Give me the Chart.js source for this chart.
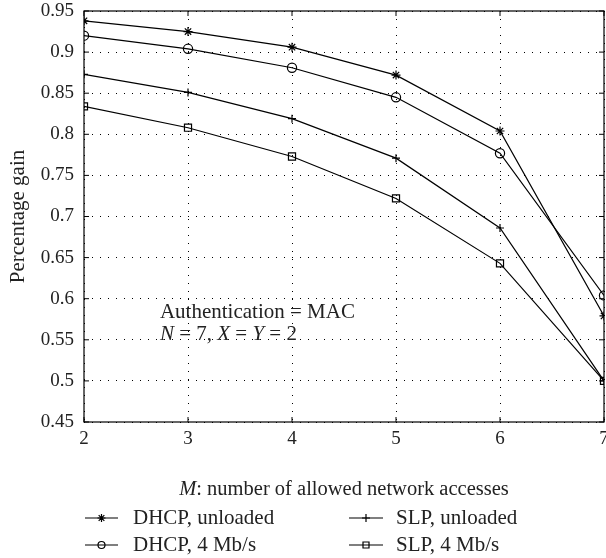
<!DOCTYPE html>
<html>
<head>
<meta charset="utf-8">
<script src="https://cdn.jsdelivr.net/npm/chart.js@4.4.1/dist/chart.umd.min.js"></script>
<style>
  html, body { margin: 0; padding: 0; background: #fff; }
  #wrap { width: 606px; height: 558px; position: relative; }
</style>
</head>
<body>
<div id="wrap"><canvas id="gainChart"></canvas></div>
<script>
// number of allowed network accesses
const accesses = [2, 3, 4, 5, 6, 7];

const dhcpUnloaded = [0.938, 0.925, 0.906, 0.872, 0.804, 0.579];
const dhcp4Mb     = [0.920, 0.904, 0.881, 0.845, 0.777, 0.604];
const slpUnloaded = [0.873, 0.851, 0.819, 0.771, 0.686, 0.500];
const slp4Mb      = [0.834, 0.808, 0.773, 0.722, 0.643, 0.500];

const yTicks = [0.45, 0.5, 0.55, 0.6, 0.65, 0.7, 0.75, 0.8, 0.85, 0.9, 0.95];

const FONT = '"Liberation Serif", "DejaVu Serif", serif';

function toPoints(vals) {
    return vals.map((v, i) => ({ x: accesses[i], y: v }));
}

function series(label, vals, style, radius) {
    return {
        label: label,
        data: toPoints(vals),
        borderColor: '#000',
        borderWidth: 1.2,
        pointStyle: style,
        pointRadius: radius,
        pointBorderColor: '#000',
        pointBorderWidth: 1.2,
        pointBackgroundColor: 'rgba(0,0,0,0)',
        tension: 0,
        fill: false
    };
}

// small marker drawer for the legend
function marker(ctx, style, x, y, r) {
    ctx.beginPath();
    if (style === 'circle') {
        ctx.arc(x, y, r, 0, Math.PI * 2);
    } else if (style === 'rect') {
        ctx.rect(x - r, y - r, 2 * r, 2 * r);
    } else if (style === 'cross') {
        ctx.moveTo(x - r, y); ctx.lineTo(x + r, y);
        ctx.moveTo(x, y - r); ctx.lineTo(x, y + r);
    } else if (style === 'star') {
        for (let k = 0; k < 4; k++) {
            const a = k * Math.PI / 4;
            ctx.moveTo(x - r * Math.cos(a), y - r * Math.sin(a));
            ctx.lineTo(x + r * Math.cos(a), y + r * Math.sin(a));
        }
    }
    ctx.stroke();
}

const decorations = {
    id: 'decorations',
    afterDraw(chart) {
        const ctx = chart.ctx;
        const a = chart.chartArea;
        const xs = chart.scales.x, ys = chart.scales.y;
        ctx.save();
        ctx.strokeStyle = '#000';
        ctx.lineWidth = 1.2;
        // box
        ctx.strokeRect(a.left, a.top, a.right - a.left, a.bottom - a.top);
        // inward ticks
        ctx.lineWidth = 1;
        ctx.beginPath();
        xs.ticks.forEach(t => {
            const px = xs.getPixelForValue(t.value);
            ctx.moveTo(px, a.bottom); ctx.lineTo(px, a.bottom - 5);
            ctx.moveTo(px, a.top); ctx.lineTo(px, a.top + 5);
        });
        ys.ticks.forEach(t => {
            const py = ys.getPixelForValue(t.value);
            ctx.moveTo(a.left, py); ctx.lineTo(a.left + 5, py);
            ctx.moveTo(a.right, py); ctx.lineTo(a.right - 5, py);
        });
        ctx.stroke();

        ctx.fillStyle = '#222';
        ctx.textBaseline = 'middle';

        // annotation
        const ax = xs.getPixelForValue(2.73);
        const ay1 = ys.getPixelForValue(0.583);
        const ay2 = ay1 + 22;
        ctx.font = '21px ' + FONT;
        ctx.textAlign = 'left';
        ctx.fillText('Authentication = MAC', ax, ay1);
        const parts = [['N', true], [' = 7, ', false], ['X', true], [' = ', false], ['Y', true], [' = 2', false]];
        let cx = ax;
        parts.forEach(p => {
            ctx.font = (p[1] ? 'italic ' : '') + '21px ' + FONT;
            ctx.fillText(p[0], cx, ay2);
            cx += ctx.measureText(p[0]).width;
        });

        // x title
        const tY = 490;
        ctx.font = 'italic 20.5px ' + FONT;
        const mW = ctx.measureText('M').width;
        ctx.font = '20.5px ' + FONT;
        const rest = ': number of allowed network accesses';
        const rW = ctx.measureText(rest).width;
        let tx = (a.left + a.right) / 2 - (mW + rW) / 2;
        ctx.font = 'italic 20.5px ' + FONT;
        ctx.fillText('M', tx, tY);
        ctx.font = '20.5px ' + FONT;
        ctx.fillText(rest, tx + mW, tY);

        // y title
        ctx.save();
        ctx.translate(18, (a.top + a.bottom) / 2);
        ctx.rotate(-Math.PI / 2);
        ctx.textAlign = 'center';
        ctx.font = '21px ' + FONT;
        ctx.fillText('Percentage gain', 0, 0);
        ctx.restore();

        // legend
        const items = chart.data.datasets;
        const cols = [[85, 118, 133], [349, 383, 396]];
        const rows = [518, 545];
        const layout = [[0, 0], [0, 1], [1, 0], [1, 1]];
        ctx.font = '21px ' + FONT;
        ctx.textAlign = 'left';
        items.forEach((ds, i) => {
            const c = cols[layout[i][0]], y = rows[layout[i][1]];
            ctx.lineWidth = 1.2;
            ctx.beginPath();
            ctx.moveTo(c[0], y); ctx.lineTo(c[1], y);
            ctx.stroke();
            const r = ds.pointStyle === 'rect' ? 3 : (ds.pointStyle === 'circle' ? 3.5 : 4);
            marker(ctx, ds.pointStyle, (c[0] + c[1]) / 2, y, r);
            ctx.fillText(ds.label, c[2], y);
        });
        ctx.restore();
    }
};

const ctx = document.getElementById('gainChart').getContext('2d');
new Chart(ctx, {
    type: 'line',
    data: {
        datasets: [
            series('DHCP, unloaded', dhcpUnloaded, 'star', 4.5),
            series('DHCP, 4 Mb/s', dhcp4Mb, 'circle', 4.6),
            series('SLP, unloaded', slpUnloaded, 'cross', 4),
            series('SLP, 4 Mb/s', slp4Mb, 'rect', 5)
        ]
    },
    options: {
        responsive: true,
        maintainAspectRatio: false,
        animation: false,
        layout: { autoPadding: false, padding: { top: 11, right: 2, left: 0, bottom: 0 } },
        plugins: { legend: { display: false }, tooltip: { enabled: false } },
        scales: {
            x: {
                type: 'linear',
                min: 2, max: 7,
                afterBuildTicks: s => { s.ticks = accesses.map(v => ({ value: v })); },
                afterFit: s => { s.height = 136; s.paddingLeft = 0; s.paddingRight = 0; },
                ticks: { color: '#222', padding: 6, font: { family: FONT, size: 19 } },
                grid: { color: '#000', lineWidth: 1, drawTicks: false },
                border: { display: false, dash: [1, 7] }
            },
            y: {
                min: 0.45, max: 0.95,
                afterBuildTicks: s => { s.ticks = yTicks.map(v => ({ value: v })); },
                afterFit: s => { s.width = 84; s.paddingTop = 0; s.paddingBottom = 0; },
                ticks: {
                    color: '#222', padding: 10, font: { family: FONT, size: 19 },
                    callback: v => String(+v.toFixed(2))
                },
                grid: { color: '#000', lineWidth: 1, drawTicks: false },
                border: { display: false, dash: [1, 7] }
            }
        }
    },
    plugins: [decorations]
});
</script>
</body>
</html>
